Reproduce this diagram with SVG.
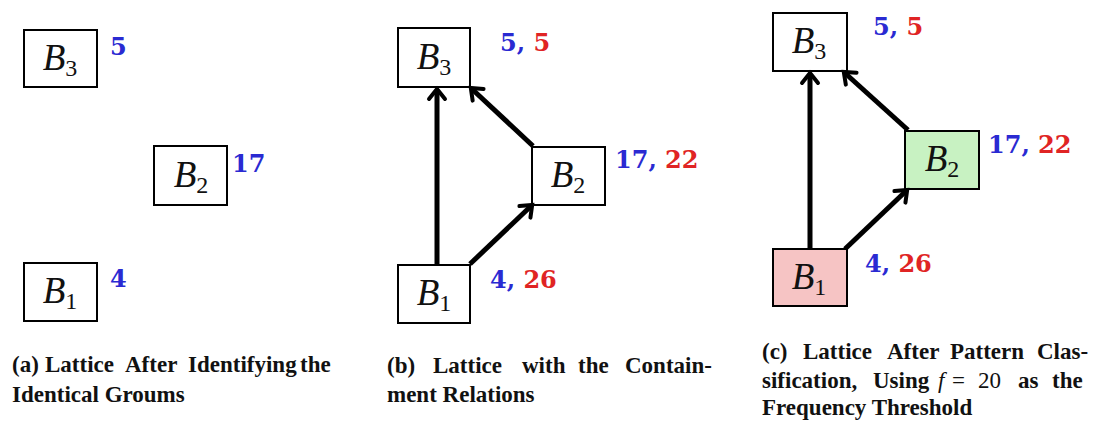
<svg xmlns="http://www.w3.org/2000/svg" width="1099" height="423" viewBox="0 0 1099 423">
<style>
.box{fill:#fff;stroke:#000;stroke-width:2}
.pink{fill:#f6c4c4}
.green{fill:#c8f2c2}
.nm{font-family:"Liberation Serif",serif;font-style:italic;font-size:37px;fill:#111}
.sub{font-style:normal;font-size:24px}
.num{font-family:"DejaVu Serif",serif;font-weight:bold;font-size:24px}
.bl{fill:#2a2ad2}
.rd{fill:#e02424}
.cap{font-family:"Liberation Serif",serif;font-weight:bold;font-size:23px;fill:#111}
.arr{stroke:#000;stroke-width:5;fill:none;marker-end:url(#ah)}
</style>
<defs>
<marker id="ah" viewBox="-15 -15 30 30" markerWidth="30" markerHeight="30" refX="-3" refY="0" markerUnits="userSpaceOnUse" orient="auto" overflow="visible">
<path d="M-10,-8 L0,0 L-10,8" fill="none" stroke="#000" stroke-width="4" stroke-linecap="round" stroke-linejoin="miter"/>
</marker>
</defs>
<rect width="1099" height="423" fill="#fff"/>

<!-- Panel (a) -->
<g id="a-B3"><rect class="box" x="24" y="30" width="73" height="57"/><text class="nm" x="60" y="70" text-anchor="middle">B<tspan class="sub" dy="6">3</tspan></text><text class="num bl" x="110" y="55">5</text></g>
<g id="a-B2"><rect class="box" x="154" y="146" width="73" height="59"/><text class="nm" x="191" y="187" text-anchor="middle">B<tspan class="sub" dy="6">2</tspan></text><text class="num bl" x="232" y="172">17</text></g>
<g id="a-B1"><rect class="box" x="24" y="263" width="73" height="58"/><text class="nm" x="60" y="303" text-anchor="middle">B<tspan class="sub" dy="6">1</tspan></text><text class="num bl" x="110" y="287">4</text></g>
<g id="a-caption"><text class="cap" y="372"><tspan x="12">(a)</tspan><tspan x="45">Lattice</tspan><tspan x="125">After</tspan><tspan x="188">Identifying</tspan><tspan x="300">the</tspan></text><text class="cap" x="12" y="402">Identical Groums</text></g>

<!-- Panel (b) -->
<g id="b-B3"><rect class="box" x="398" y="28" width="72" height="59"/><text class="nm" x="434" y="69" text-anchor="middle">B<tspan class="sub" dy="6">3</tspan></text><text class="num" x="500" y="51"><tspan class="bl">5, </tspan><tspan class="rd">5</tspan></text></g>
<g id="b-B2"><rect class="box" x="532" y="147" width="73" height="58"/><text class="nm" x="568" y="187" text-anchor="middle">B<tspan class="sub" dy="6">2</tspan></text><text class="num" x="615" y="168"><tspan class="bl">17, </tspan><tspan class="rd">22</tspan></text></g>
<g id="b-B1"><rect class="box" x="398" y="265" width="72" height="58"/><text class="nm" x="434" y="305" text-anchor="middle">B<tspan class="sub" dy="6">1</tspan></text><text class="num" x="490" y="288"><tspan class="bl">4, </tspan><tspan class="rd">26</tspan></text></g>
<g id="b-caption"><text class="cap" y="373"><tspan x="387">(b)</tspan><tspan x="433">Lattice</tspan><tspan x="522">with</tspan><tspan x="578">the</tspan><tspan x="625">Contain-</tspan></text><text class="cap" x="387" y="402">ment Relations</text></g>

<!-- Panel (c) -->
<g id="c-B3"><rect class="box" x="773" y="13" width="74" height="58"/><text class="nm" x="809" y="53" text-anchor="middle">B<tspan class="sub" dy="6">3</tspan></text><text class="num" x="873" y="35"><tspan class="bl">5, </tspan><tspan class="rd">5</tspan></text></g>
<g id="c-B2"><rect class="box green" x="905" y="131" width="74" height="58"/><text class="nm" x="942" y="171" text-anchor="middle">B<tspan class="sub" dy="6">2</tspan></text><text class="num" x="988" y="153"><tspan class="bl">17, </tspan><tspan class="rd">22</tspan></text></g>
<g id="c-B1"><rect class="box pink" x="773" y="249" width="74" height="57"/><text class="nm" x="809" y="289" text-anchor="middle">B<tspan class="sub" dy="6">1</tspan></text><text class="num" x="865" y="272"><tspan class="bl">4, </tspan><tspan class="rd">26</tspan></text></g>
<g id="c-caption"><text class="cap" y="359"><tspan x="762">(c)</tspan><tspan x="803">Lattice</tspan><tspan x="887">After</tspan><tspan x="950">Pattern</tspan><tspan x="1037">Clas-</tspan></text><text class="cap" y="388"><tspan x="762">sification,</tspan><tspan x="873">Using</tspan><tspan x="938" font-style="italic" font-weight="normal">f</tspan><tspan x="952" font-weight="normal">=</tspan><tspan x="978" font-weight="normal">20</tspan><tspan x="1018">as</tspan><tspan x="1052">the</tspan></text><text class="cap" x="762" y="415">Frequency Threshold</text></g>

<!-- Connectors -->
<g id="connectors">
<line class="arr" x1="437" y1="265" x2="437" y2="92"/>
<line class="arr" x1="470" y1="264" x2="530" y2="207"/>
<line class="arr" x1="533" y1="146" x2="473" y2="90"/>
<line class="arr" x1="810" y1="249" x2="810" y2="76"/>
<line class="arr" x1="845" y1="249" x2="905" y2="192"/>
<line class="arr" x1="908" y1="130" x2="846" y2="74"/>
</g>
</svg>
